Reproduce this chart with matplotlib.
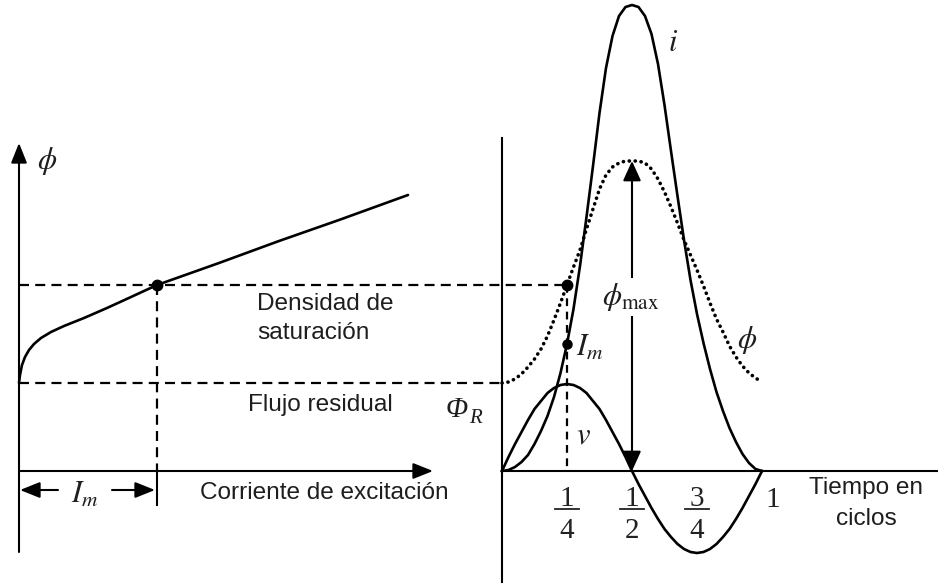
import matplotlib
matplotlib.use("Agg")
import matplotlib.pyplot as plt

plt.rcParams['mathtext.fontset'] = 'stix'
plt.rcParams['font.family'] = ['Liberation Sans', 'DejaVu Sans']

# ---------------- data ----------------
# left panel: magnetisation curve (excitation current vs flux), flux in same units as right panel
I_curve = [0.00, 0.01, 0.03, 0.06, 0.10, 0.15, 0.22, 0.32, 0.45, 0.65, 0.88, 1.12, 1.38, 2.00, 2.60, 3.20, 3.89]
phi_curve = [88, 96, 106, 114, 121, 127, 133, 139, 145, 153, 163, 174, 186, 208, 230, 251, 276]
I_m = 1.38          # magnetising current at saturation density
phi_sat = 186       # saturation density
phi_R = 88          # residual flux
phi_max = 310       # maximum flux

# right panel: one cycle
t_cycle = [0.0, 0.025, 0.05, 0.075, 0.1, 0.125, 0.15, 0.175, 0.2, 0.225, 0.25, 0.275, 0.3, 0.325,
           0.35, 0.375, 0.4, 0.425, 0.45, 0.475, 0.5, 0.525, 0.55, 0.575, 0.6, 0.625, 0.65, 0.675,
           0.7, 0.725, 0.75, 0.775, 0.8, 0.825, 0.85, 0.875, 0.9, 0.925, 0.95, 0.975, 1.0]
i_current = [0, 1, 4, 9, 16, 27, 40, 55, 74, 98, 127, 162, 205, 254, 305, 358, 403, 435, 455, 464,
             466, 464, 455, 437, 407, 366, 320, 275, 231, 191, 157, 128, 102, 79, 60, 43, 29, 17, 8, 2, 0]
v_voltage = [0, 14, 27, 39, 51, 62, 70, 78, 83, 86, 87, 86, 83, 78, 70, 62, 51, 39, 27, 14,
             0, -13, -25, -37, -48, -58, -66, -73, -78, -81, -82, -81, -78, -73, -66, -58, -48, -37, -25, -13, 0]
phi_flux = [88, 89, 92, 97, 104, 112, 122, 135, 151, 168, 186, 204, 221, 242, 262, 282, 296, 304, 308, 310,
            310, 310, 308, 302, 292, 279, 264, 248, 231, 216, 201, 185, 168, 152, 139, 125, 114, 105, 98, 93, 89]

tick_pos = [0.25, 0.5, 0.75]
tick_num = ['1', '1', '3']
tick_den = ['4', '2', '4']
last_tick = '1'

# ---------------- layout ----------------
W, H = 938, 586
fig = plt.figure(figsize=(W / 100, H / 100), dpi=100)

L0, LS = 19, 100      # left panel origin (px) and px per unit of current
R0, RS = 502, 260     # right panel origin (px) and px per cycle
Y0 = 471              # common time/current axis (px from top)

axL = fig.add_axes([0, 0, 1, 1])
axL.set_xlim(-L0 / LS, (W - L0) / LS)
axL.set_ylim(Y0 - H, Y0)
axL.axis('off')

axR = fig.add_axes([0, 0, 1, 1])
axR.set_xlim(-R0 / RS, (W - R0) / RS)
axR.set_ylim(Y0 - H, Y0)
axR.axis('off')
axR.patch.set_alpha(0)

axP = fig.add_axes([0, 0, 1, 1])
axP.set_xlim(0, W)
axP.set_ylim(H, 0)
axP.axis('off')
axP.patch.set_alpha(0)


def t_to_I(t):
    return (R0 + RS * t - L0) / LS


K = 'black'
lw_c = 1.9
lw_ax = 1.5
dash = (0, (4.5, 2.8))
arrow_kw = dict(arrowstyle='-|>,head_length=0.55,head_width=0.22', mutation_scale=22,
                color=K, lw=lw_ax, shrinkA=0, shrinkB=0)

# left axes with arrows
axL.annotate('', xy=(0, Y0 - 143), xytext=(0, Y0 - 552), arrowprops=arrow_kw)
axL.annotate('', xy=((433 - L0) / LS, 0), xytext=(0, 0), arrowprops=arrow_kw)

# magnetisation curve
axL.plot(I_curve, phi_curve, color=K, lw=lw_c, solid_capstyle='round')

# dashed guide lines
axL.plot([0, t_to_I(0.25)], [phi_sat, phi_sat], color=K, lw=1.6, ls=dash)
axL.plot([0, t_to_I(0.0)], [phi_R, phi_R], color=K, lw=1.6, ls=dash)
axL.plot([I_m, I_m], [phi_sat, 0], color=K, lw=1.6, ls=dash)
axL.plot([I_m, I_m], [0, -34], color=K, lw=lw_ax)
axL.plot([I_m], [phi_sat], 'o', color=K, ms=7.5)

# I_m bracket arrows
axL.annotate('', xy=(0.01, -19), xytext=((58 - L0) / LS, -19), arrowprops=arrow_kw)
axL.annotate('', xy=(I_m - 0.02, -19), xytext=((112 - L0) / LS, -19), arrowprops=arrow_kw)

# right axes
axR.plot([0, 0], [Y0 - 138, Y0 - 582], color=K, lw=lw_ax)
axR.plot([0, (W - R0) / RS], [0, 0], color=K, lw=lw_ax)

# curves
axR.plot(t_cycle, phi_flux, color=K, lw=2.6, ls=(0, (0.05, 1.6)), dash_capstyle='round')
axR.plot(t_cycle, i_current, color=K, lw=lw_c)
axR.plot(t_cycle, v_voltage, color=K, lw=lw_c)

# dashed line at 1/4 cycle and dots
axR.plot([0.25, 0.25], [phi_sat, 0], color=K, lw=1.6, ls=(0, (3.5, 2.5)))
axR.plot([0.25], [phi_sat], 'o', color=K, ms=7.5)
axR.plot([0.25], [i_current[t_cycle.index(0.25)]], 'o', color=K, ms=6.5)

# phi_max double arrow
axR.annotate('', xy=(0.5, phi_max), xytext=(0.5, 0),
             arrowprops=dict(arrowstyle='<|-|>,head_length=0.55,head_width=0.25', mutation_scale=22,
                             color=K, lw=lw_ax, shrinkA=0, shrinkB=0))

# fraction tick labels
serif = ['Liberation Serif', 'DejaVu Serif']
for tp, n, d in zip(tick_pos, tick_num, tick_den):
    axR.plot([tp - 0.048, tp + 0.048], [-38, -38], color='#222222', lw=1.3)
    axR.text(tp, -35, n, ha='center', va='baseline', fontsize=21, family=serif, color='#222222')
    axR.text(tp, -67, d, ha='center', va='baseline', fontsize=21, family=serif, color='#222222')
axR.text(1.042, -36, last_tick, ha='center', va='baseline', fontsize=21, family=serif, color='#222222')

# ---------------- text ----------------
tc = '#1e1e1e'
fs_s = 17.6
axP.text(257, 310, 'Densidad de', fontsize=fs_s, color=tc, va='baseline', ha='left')
axP.text(257, 339, 'saturación', fontsize=fs_s, color=tc, va='baseline', ha='left')
axP.text(248, 411, 'Flujo residual', fontsize=fs_s, color=tc, va='baseline', ha='left')
axP.text(200, 499, 'Corriente de excitación', fontsize=fs_s, color=tc, va='baseline', ha='left')
axP.text(866, 494, 'Tiempo en', fontsize=fs_s, color=tc, va='baseline', ha='center')
axP.text(866, 525, 'ciclos', fontsize=fs_s, color=tc, va='baseline', ha='center')

fs_m = 22
axP.text(47, 161, r'$\phi$', fontsize=fs_m, color=tc, ha='center', va='center')
axP.text(673, 43, r'$i$', fontsize=fs_m, color=tc, ha='center', va='center')
axP.text(747, 340, r'$\phi$', fontsize=fs_m, color=tc, ha='center', va='center')
axP.text(631, 297, r'$\phi_{\max}$', fontsize=fs_m, color=tc, ha='center', va='center', zorder=5,
         bbox=dict(facecolor='white', edgecolor='none', pad=2))
axP.text(576, 356, r'$I_m$', fontsize=fs_m, color=tc, ha='left', va='baseline')
axP.text(71, 503, r'$I_m$', fontsize=fs_m, color=tc, ha='left', va='baseline')
axP.text(446, 417, 'Φ', fontsize=21, color=tc, ha='left', va='baseline', family=serif, style='italic')
axP.text(469, 423, 'R', fontsize=15, color=tc, ha='left', va='baseline', family=serif, style='italic')
axP.text(583, 435, r'$v$', fontsize=fs_m, color=tc, ha='center', va='center')

fig.savefig('out.png', dpi=100, facecolor='white')
